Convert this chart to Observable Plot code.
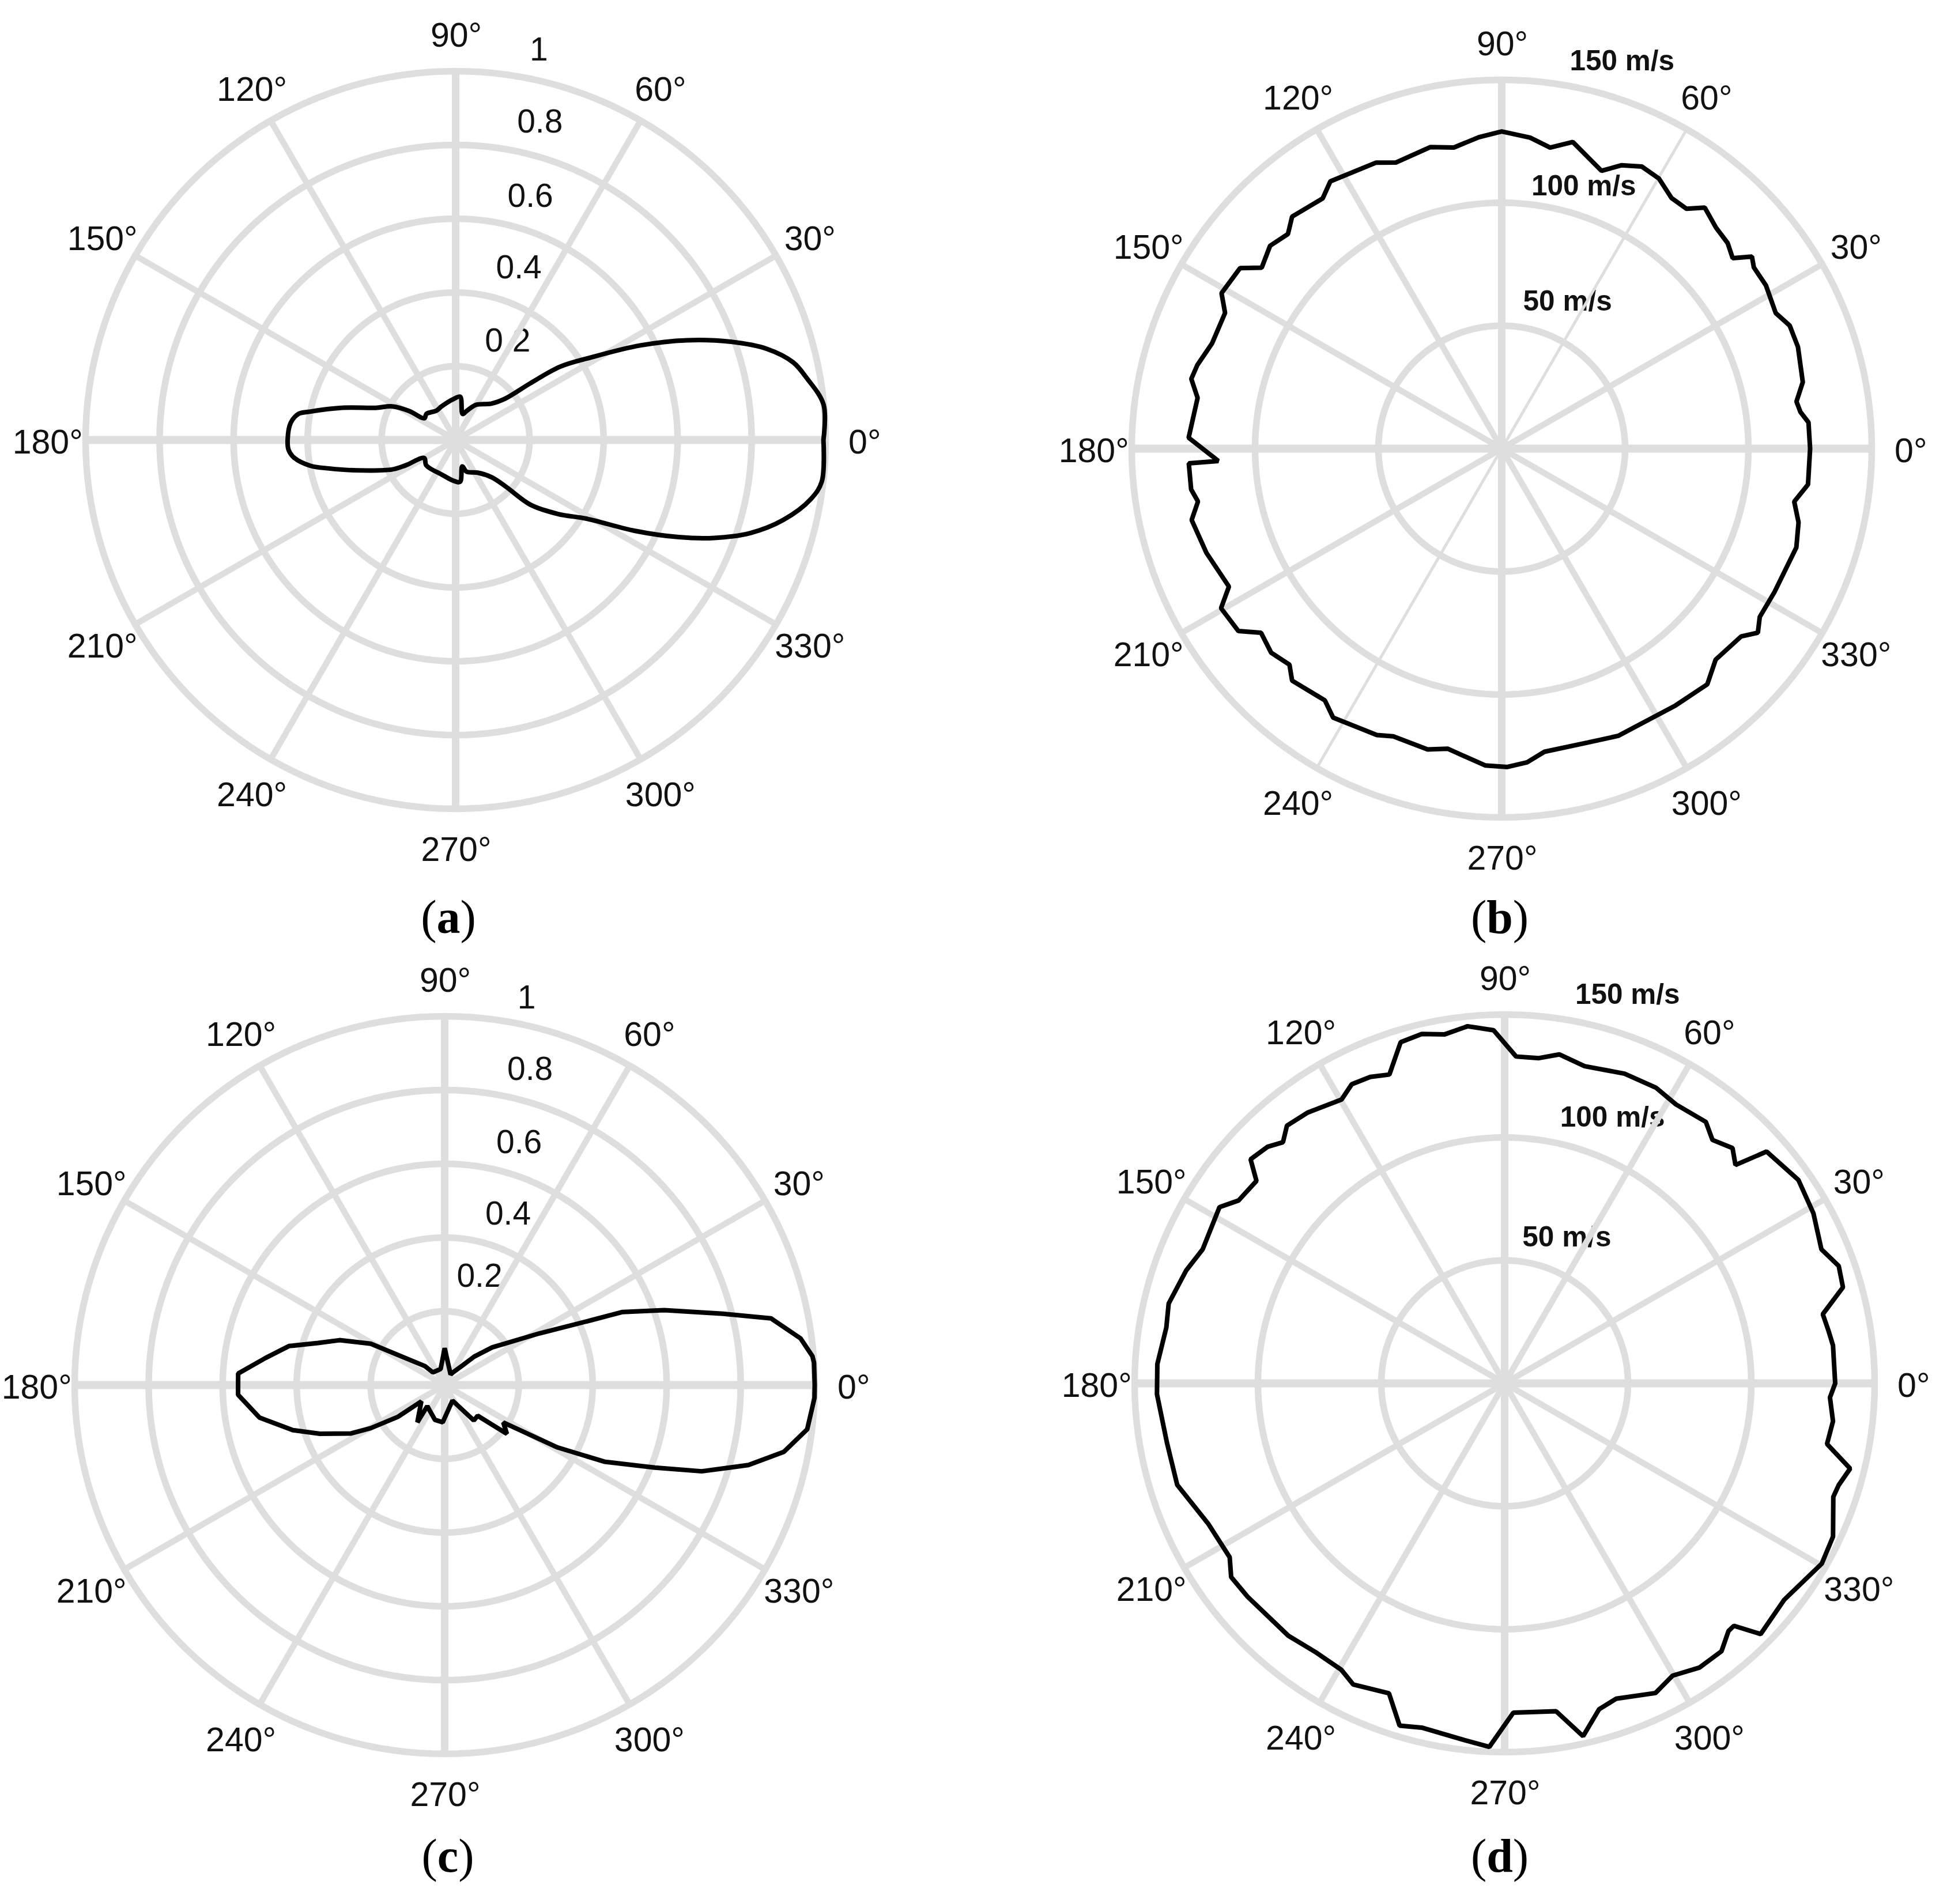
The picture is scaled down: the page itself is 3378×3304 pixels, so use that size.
<!DOCTYPE html>
<html><head><meta charset="utf-8">
<script src="https://cdn.jsdelivr.net/npm/d3@7"></script>
<script src="https://cdn.jsdelivr.net/npm/@observablehq/plot@0.6"></script>
<style>
html,body{margin:0;padding:0;background:#fff}
#fig{position:relative;width:3378px;height:3304px;overflow:hidden}
.panel{position:absolute}
.cap{position:absolute;width:300px;text-align:center;font:82px "Liberation Serif",serif;color:#000}
.cap b{font-weight:bold}
</style></head><body><div id="fig"></div>
<script>
// Panel (a): normalised pattern
const aAngles=[0,5.5,10.1,13,16.4,19.7,23.4,27.2,31.5,35.1,37.3,39.9,45.6,60,69,75,84,92,112,123,138,145,148,152,158,164,169,170.5,174,180,183.5,186.3,190,192.7,196.6,205,207,210,221,248.5,266,276,284,289,304,314,317,319,324,329,333,336.4,339.2,342.4,346.2,350.5,353.5,360];
const aValues=[.994,.999,.963,.936,.876,.79,.681,.561,.428,.346,.253,.175,.138,.11,.085,.073,.118,.112,.099,.095,.106,.103,.149,.194,.233,.317,.402,.43,.448,.454,.452,.439,.40,.351,.287,.189,.151,.098,.105,.101,.110,.114,.074,.091,.107,.141,.185,.267,.341,.415,.542,.658,.748,.835,.911,.973,.996,.994];
// Panel (b): speed, m/s
const bAngles=[0,4.9,7,9.1,12.5,19,23.2,26.4,31.8,35.8,37.6,39.6,42.4,46,50,52.5,56,59.9,63.7,67.2,70.3,77,80.9,84.8,90,94.2,99,103.3,110.2,113.7,122.6,125.5,132,134.8,138.7,142.9,145.3,150.9,153.8,160,164.6,167.3,170.5,178,182.5,182.7,187.5,189.9,193,199.5,206.9,209.7,214.8,217.5,221.6,225.6,228,235,238,246.5,249.4,256.2,259.8,267,271,274.6,278,286.2,292,304,311,315.3,321.8,324.2,326.8,332.2,341.4,346,349.7,353.3,360];
const bValues=[125,124.8,122,121,125,127,127,124,126,126,128,121.5,124,125,128,123,123,127,128,125,120,128,124,127,129,127,124,126,124,127,129,125,127,123,125,122,129,130,125,125,128,129,125,127,115,127,127,125,129,127,124,131,130,123,125,123,127,125,129,127,125,126,124,129,129.5,128,124.5,124.5,126,126,127,122,123.5,128,125,125,126,124,120.5,125,125];
// Panel (c): normalised pattern
const cAngles=[0,3.5,4.5,7.5,11.6,14.4,18.9,22.4,24.2,28.7,38.5,44,48,56,61,90,104,133,136,150.7,156.8,161.6,165.9,171.4,176.8,182.7,190,196.6,201.4,207.4,210.3,214.3,215,233.8,230.5,254.5,267,296.6,309.4,317,321.8,327.4,331,334.3,338.5,341.4,345.2,348.8,353,358,360];
const cValues=[1,1,.997,.97,.9,.777,.627,.52,.422,.292,.164,.111,.071,.043,.033,.10,.045,.047,.074,.229,.309,.361,.434,.49,.559,.559,.508,.428,.362,.285,.232,.153,.077,.125,.074,.098,.101,.047,.124,.122,.214,.188,.349,.479,.611,.733,.849,.934,.987,1,1];
// Panel (d): speed, m/s
const dAngles=[0,6.6,9.3,12.3,15.9,19.4,23,28.9,34.8,41.6,43.5,46,49.6,52.5,58.5,63,68.9,75.9,80.6,84,88,91.8,95.9,99.7,103.3,106.9,110.4,113.6,117,119.8,125.9,130.1,132.5,135,138.5,140.7,145.4,148.2,156,160.4,166.6,170.6,176.8,181.8,190,197.3,205.5,212.4,215.4,219.8,229.5,235.1,240.4,243.4,249.6,253,256.5,263.6,267.6,271.5,278.9,282.5,286.1,289.4,295.9,299.8,304.3,308.9,312,313.3,315.5,322.2,330.3,334.9,340.9,343,346.1,349.3,353.4,357.5,360];
const dValues=[134,134,133,132,142.6,143.6,139.5,143,145,142,129,133,130,134,133,135,135,133,135.6,133,133,143.7,146,144,146,145,134,136,136.5,133,136,137,133,136,137.5,130,131,136,134,137,140,139,141,141,139,139,133,132,136,135.6,135,133.5,134,137,134.5,145.6,144,146,148,134,135,147,138,136,140,137,140,140,135.6,135.5,145.5,143.5,148,147,141,141.6,144.3,133,134,132,134];

const angleTicks=[0,30,60,90,120,150,180,210,240,270,300,330];
const patternRings=[0.2,0.4,0.6,0.8,1];
const patternRingLabels=["0.2","0.4","0.6","0.8","1"];
const speedRings=[50,100,150];
const speedRingLabels=["50 m/s","100 m/s","150 m/s"];

const W=1540,H=1560;
const rad=d=>d*Math.PI/180;
const polar=(deg,r)=>({x:r*Math.cos(rad(deg)),y:r*Math.sin(rad(deg))});

function panel(o){
  const {cx,cy,Rx,Ry,max,rings,ringLabels,labelSpots,angles,values,bold,thin=[],capX,capY,cap,tickR=1.104,curve="linear"}=o;
  const circle=d3.range(0,361,2);
  const ringPts=rings.flatMap(r=>circle.map(a=>({ring:r,...polar(a,r)})));
  const spokes=angleTicks.slice(0,6).map(a=>{
    const p=polar(a,max);
    return {x1:p.x,y1:p.y,x2:-p.x,y2:-p.y,w:a===0?14:a===90?13:thin.includes(a)?5:10.5};
  });
  const tickPts=angleTicks.map(a=>({t:a+"°",...polar(a,max*tickR)}));
  const rLabels=ringLabels.map((t,i)=>({t,...polar(labelSpots[i][0],max*labelSpots[i][1])}));
  const line=angles.map((a,i)=>polar(a,values[i]));
  const chart=Plot.plot({
    width:W,height:H,margin:0,
    x:{domain:[-max*W/2/Rx,max*W/2/Rx],range:[0,W],axis:null},
    y:{domain:[-max*H/2/Ry,max*H/2/Ry],range:[H,0],axis:null},
    style:{background:"transparent",overflow:"visible"},
    marks:[
      Plot.text(rLabels,{x:"x",y:"y",text:"t",fontFamily:"Liberation Sans",fontSize:bold?49.5:57,fontWeight:bold?"bold":"normal",fill:"#111",textAnchor:"middle",lineAnchor:"middle"}),
      Plot.line(ringPts,{x:"x",y:"y",z:"ring",stroke:"#dedede",strokeWidth:11.5}),
      Plot.link(spokes,{x1:"x1",y1:"y1",x2:"x2",y2:"y2",stroke:"#dedede",strokeWidth:"w"}),
      Plot.text(tickPts,{x:"x",y:"y",text:"t",dx:1,dy:5,fontFamily:"Liberation Sans",fontSize:59,fill:"#111",textAnchor:"middle",lineAnchor:"middle"}),
      Plot.line(line,{x:"x",y:"y",curve,stroke:"#000",strokeWidth:8,strokeLinejoin:"miter"})
    ]
  });
  const fig=document.getElementById("fig");
  chart.classList.add("panel");
  chart.style.left=(cx-W/2)+"px";
  chart.style.top=(cy-H/2)+"px";
  fig.appendChild(chart);
  const c=document.createElement("div");
  c.className="cap";
  c.innerHTML="("+"<b>"+cap+"</b>)";
  c.style.left=(capX-150)+"px";
  c.style.top=(capY-47)+"px";
  fig.appendChild(c);
}

const aSpots=[[62.3,.303],[69.9,.497],[73,.691],[75.2,.892],[78,1.081]];
const cSpots=[[72.3,.31],[69.7,.494],[73,.688],[74.9,.886],[78.1,1.073]];
const bSpots=[[66,.437],[72.7,.745],[72.8,1.10]];
const dSpots=[[67,.43],[68,.778],[72.5,1.105]];

panel({cx:790,cy:763,Rx:642,Ry:640,max:1,rings:patternRings,ringLabels:patternRingLabels,labelSpots:aSpots,angles:aAngles,values:aValues,curve:"catmull-rom",capX:778,capY:1592,cap:"a"});
panel({cx:2605,cy:778,Rx:642,Ry:640,max:150,rings:speedRings,ringLabels:speedRingLabels,labelSpots:bSpots,angles:bAngles,values:bValues,bold:true,thin:[60],capX:2602,capY:1592,cap:"b"});
panel({cx:771,cy:2403,Rx:642,Ry:640,max:1,rings:patternRings,ringLabels:patternRingLabels,labelSpots:cSpots,angles:cAngles,values:cValues,capX:777,capY:3221,cap:"c"});
panel({cx:2610,cy:2400,Rx:642,Ry:640,max:150,rings:speedRings,ringLabels:speedRingLabels,labelSpots:dSpots,angles:dAngles,values:dValues,bold:true,capX:2602,capY:3221,cap:"d"});
</script></body></html>
